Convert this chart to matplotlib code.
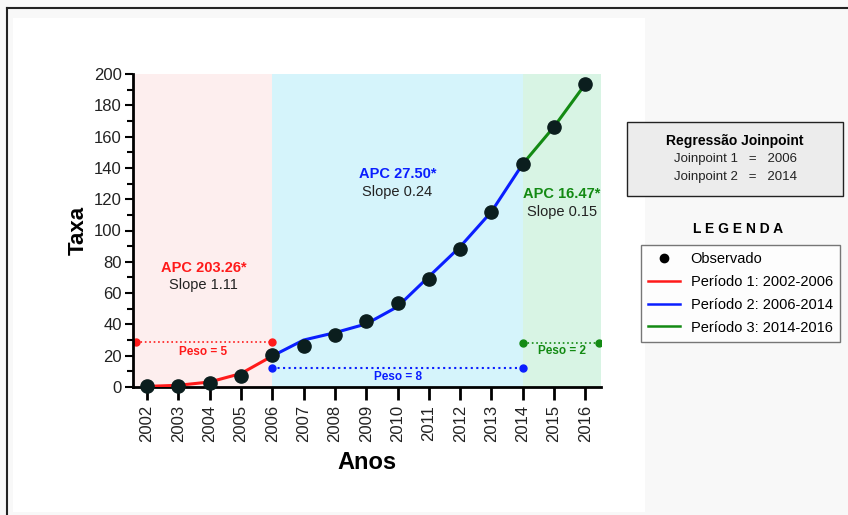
import matplotlib.pyplot as plt
from matplotlib.patches import Rectangle
from matplotlib.lines import Line2D
from matplotlib.ticker import MultipleLocator

plt.rcParams['font.family'] = ['Liberation Sans', 'DejaVu Sans']

# data
anos = list(range(2002, 2017))
observado = [0.6, 0.8, 2.7, 7.0, 20.4, 26.2, 33.2, 42.4, 53.9, 68.8, 88.0, 112.0, 142.5, 166.3, 193.6]

anos_p1 = [2002, 2003, 2004, 2005, 2006]
ajuste_p1 = [0.4, 1.1, 3.2, 8.6, 19.8]
anos_p2 = [2006, 2007, 2008, 2009, 2010, 2011, 2012, 2013, 2014]
ajuste_p2 = [19.8, 30.0, 34.7, 40.3, 51.3, 70.5, 89.6, 112.0, 142.5]
anos_p3 = [2014, 2015, 2016]
ajuste_p3 = [142.5, 166.3, 193.6]

joinpoints = [2006, 2014]
apc = ['APC 203.26*', 'APC 27.50*', 'APC 16.47*']
slopes = ['Slope 1.11', 'Slope 0.24', 'Slope 0.15']
pesos = ['Peso = 5', 'Peso = 8', 'Peso = 2']

W, H = 848, 515
fig = plt.figure(figsize=(W / 100, H / 100), dpi=100)
fig.patch.set_facecolor('#f8f8f8')

# white panel + frame lines
fig.patches.append(Rectangle((13 / W, 1 - 512 / H), (645 - 13) / W, (512 - 18) / H,
                             transform=fig.transFigure, facecolor='white', edgecolor='none', zorder=-5))
fig.add_artist(Line2D([7 / W, 1], [1 - 8 / H, 1 - 8 / H], color='#222222', lw=1.5))
fig.add_artist(Line2D([7 / W, 7 / W], [0, 1 - 8 / H], color='#222222', lw=1.5))

ax = fig.add_axes([133 / W, 1 - 387 / H, (601 - 133) / W, (387 - 74) / H])
ax.set_zorder(2)
ax.set_facecolor('none')
xmin, xmax = 2001.55, 2016.5
ax.set_xlim(xmin, xmax)
ax.set_ylim(0, 200)

c_red, c_blue, c_green = '#ff1a1a', '#0a1eff', '#138a13'

ax.axvspan(xmin, joinpoints[0], color='#fdeeee', lw=0, zorder=0)
ax.axvspan(joinpoints[0], joinpoints[1], color='#d5f4fb', lw=0, zorder=0)
ax.axvspan(joinpoints[1], xmax, color='#d8f4e4', lw=0, zorder=0)

ax.plot(anos_p1, ajuste_p1, color=c_red, lw=2.2, zorder=3)
ax.plot(anos_p2, ajuste_p2, color=c_blue, lw=2.2, zorder=3)
ax.plot(anos_p3, ajuste_p3, color=c_green, lw=2.2, zorder=3)
ax.plot(anos, observado, 'o', color='#0b1e1e', ms=9.5, zorder=4, clip_on=False)

# peso segments
ax.plot([2001.65, joinpoints[0]], [28.5, 28.5], ':', color=c_red, lw=1.2, marker='o', ms=5, zorder=2)
ax.text(2003.8, 22.4, pesos[0], color=c_red, fontsize=8.5, fontweight='bold', ha='center', va='center')
ax.plot([joinpoints[0], joinpoints[1]], [12, 12], ':', color=c_blue, lw=1.5, marker='o', ms=5, zorder=2)
ax.text(2010, 6.6, pesos[1], color=c_blue, fontsize=8.5, fontweight='bold', ha='center', va='center')
ax.plot([joinpoints[1], 2016.45], [28.3, 28.3], ':', color=c_green, lw=1.2, marker='o', ms=5, zorder=2)
ax.text(2015.25, 23, pesos[2], color=c_green, fontsize=8.5, fontweight='bold', ha='center', va='center')

# APC labels
ax.text(2003.8, 76, apc[0], color=c_red, fontsize=10.5, fontweight='bold', ha='center', va='center')
ax.text(2003.8, 65, slopes[0], color='#222222', fontsize=10.5, ha='center', va='center')
ax.text(2010, 136, apc[1], color=c_blue, fontsize=10.5, fontweight='bold', ha='center', va='center')
ax.text(2010, 124.5, slopes[1], color='#222222', fontsize=10.5, ha='center', va='center')
ax.text(2015.25, 123.3, apc[2], color=c_green, fontsize=10.5, fontweight='bold', ha='center', va='center')
ax.text(2015.25, 112, slopes[2], color='#222222', fontsize=10.5, ha='center', va='center')

# axes styling
for s in ['top', 'right']:
    ax.spines[s].set_visible(False)
for s in ['left', 'bottom']:
    ax.spines[s].set_linewidth(2)
ax.set_xticks(anos)
ax.set_xticklabels([str(a) for a in anos], rotation=90, fontsize=12, color='#222222')
ax.yaxis.set_major_locator(MultipleLocator(20))
ax.yaxis.set_minor_locator(MultipleLocator(10))
ax.tick_params(axis='x', length=9, width=2, pad=4)
ax.tick_params(axis='y', which='major', length=6, width=1.5, labelsize=12, labelcolor='#222222', pad=2)
ax.tick_params(axis='y', which='minor', length=4, width=1.5)
ax.set_xlabel('Anos', fontsize=17, fontweight='bold', labelpad=6)
ax.set_ylabel('Taxa', fontsize=16, fontweight='bold', labelpad=4)

# Joinpoint box
fig.patches.append(Rectangle((627 / W, 1 - 196 / H), (843 - 627) / W, (196 - 122) / H,
                             transform=fig.transFigure, facecolor='#ececec', edgecolor='#222222', lw=1))
fig.text(735 / W, 1 - 141 / H, 'Regressão Joinpoint', fontsize=10, fontweight='bold', ha='center', va='center')
fig.text(735 / W, 1 - 159 / H, 'Joinpoint 1   =   %d' % joinpoints[0], fontsize=9.5, ha='center', va='center', color='#222222')
fig.text(735 / W, 1 - 177 / H, 'Joinpoint 2   =   %d' % joinpoints[1], fontsize=9.5, ha='center', va='center', color='#222222')

fig.text(738 / W, 1 - 229 / H, 'L E G E N D A', fontsize=10, fontweight='bold', ha='center', va='center')

handles = [
    Line2D([], [], ls='none', marker='o', color='black', ms=6),
    Line2D([], [], color=c_red, lw=1.8),
    Line2D([], [], color=c_blue, lw=1.8),
    Line2D([], [], color=c_green, lw=1.8),
]
labels = ['Observado', 'Período 1: 2002-2006', 'Período 2: 2006-2014', 'Período 3: 2014-2016']
leg = fig.legend(handles, labels, loc='upper left', bbox_to_anchor=(641 / W, 1 - 245 / H),
                 fontsize=10.5, frameon=True, fancybox=False, handlelength=2.2, handletextpad=0.7,
                 labelspacing=0.6, borderpad=0.5, borderaxespad=0)
leg.get_frame().set_edgecolor('#555555')
leg.get_frame().set_linewidth(1)

fig.savefig('out.png', dpi=100, facecolor=fig.get_facecolor())
